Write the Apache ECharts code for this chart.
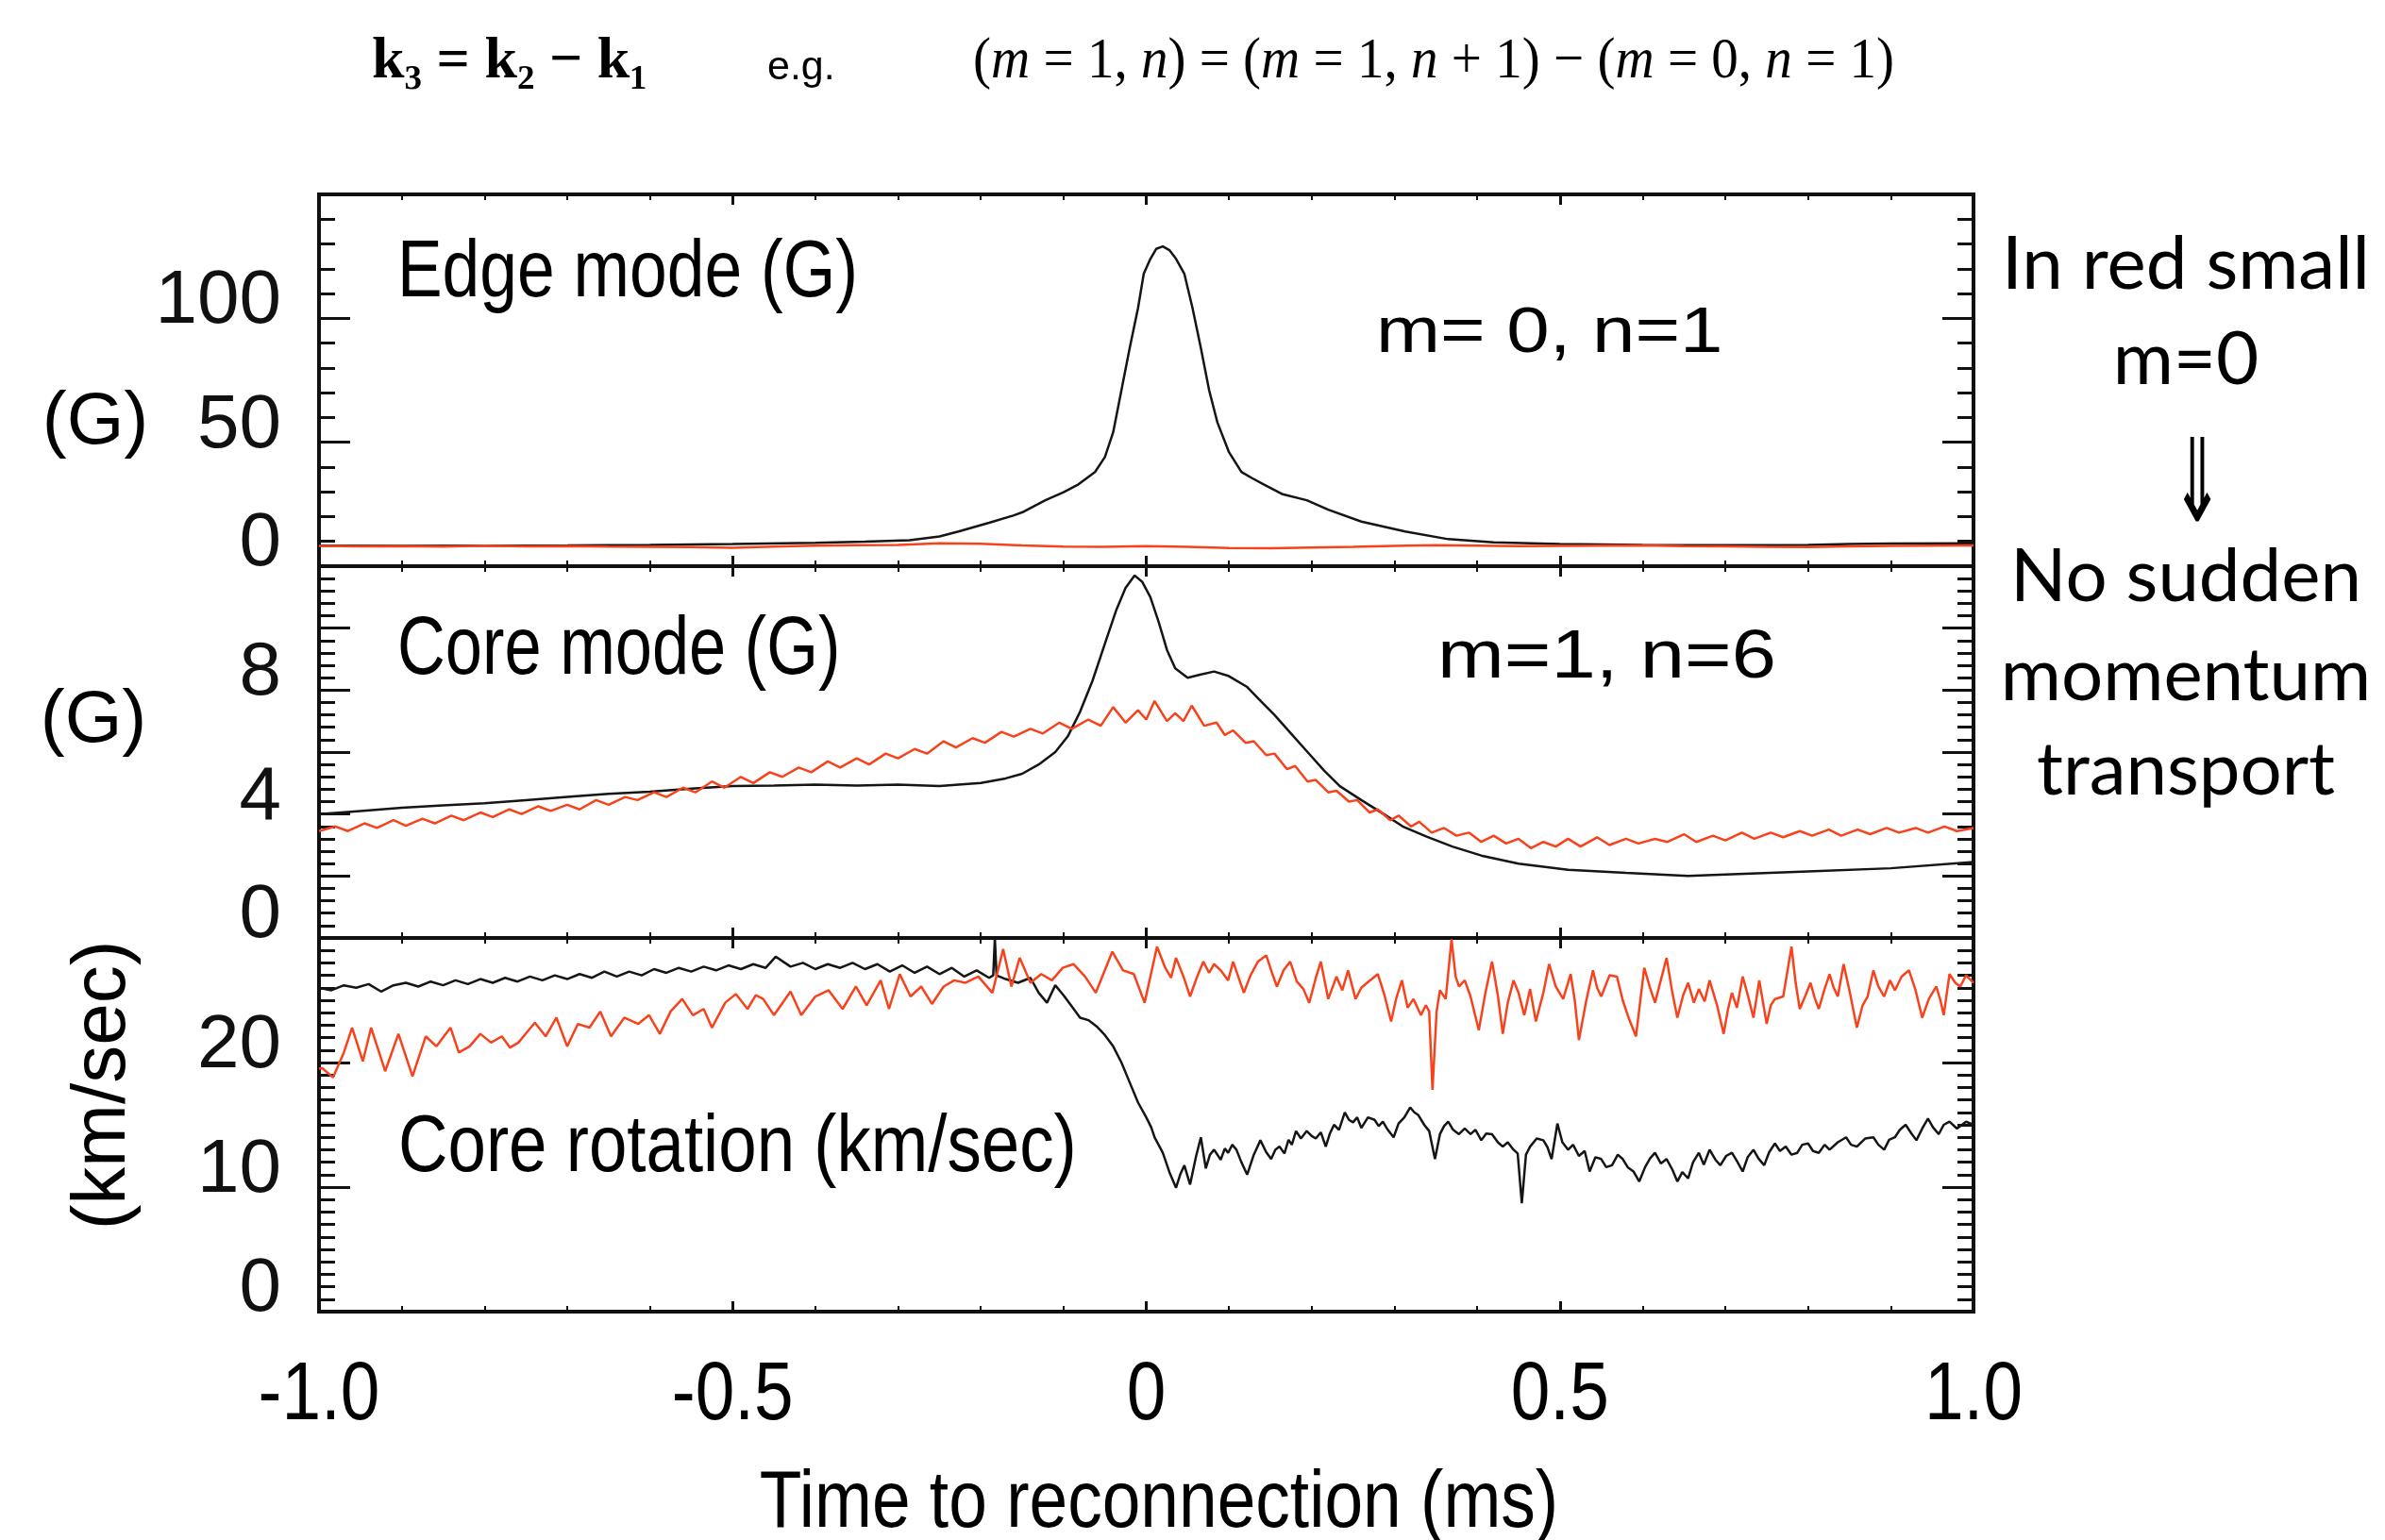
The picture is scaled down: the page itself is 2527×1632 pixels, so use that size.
<!DOCTYPE html>
<html>
<head>
<meta charset="utf-8">
<script src="https://cdn.jsdelivr.net/npm/echarts@6/dist/echarts.min.js"></script>
<style>
  html, body { margin: 0; padding: 0; background: #ffffff; }
  #chart { width: 2527px; height: 1632px; }
</style>
</head>
<body>
<div id="chart"></div>
<script>
// time axis (ms) ticks
var xTicks = [-1.0, -0.5, 0, 0.5, 1.0];
var xTickLabels = ['-1.0', '-0.5', '0', '0.5', '1.0'];

// Edge mode (G), m=0 n=1
var edgeBlack = [
  [-1.0,8.3],[-0.9,8.2],[-0.8,8.3],[-0.7,8.4],[-0.6,8.6],[-0.5,8.9],[-0.4,9.4],[-0.34,9.9],
  [-0.286,10.5],[-0.25,12.0],[-0.227,14.0],[-0.19,17.5],[-0.16,20.5],[-0.148,22.0],[-0.122,26.6],
  [-0.1,29.8],[-0.082,33.0],[-0.062,38.0],[-0.05,44],[-0.04,54],[-0.03,71],[-0.02,88],[-0.01,104],
  [-0.003,118],[0.005,124],[0.012,128],[0.02,129],[0.028,127.5],[0.036,124],[0.046,118],[0.056,104],
  [0.066,88],[0.076,71],[0.086,58],[0.1,46],[0.115,38],[0.128,35.5],[0.142,33],[0.165,29],
  [0.194,26.6],[0.22,22.8],[0.26,18],[0.313,14],[0.365,10.9],[0.42,9.6],[0.5,8.9],[0.6,8.6],
  [0.7,8.5],[0.8,8.6],[0.85,8.9],[0.9,9.1],[1.0,9.2]
];
var edgeRed = [
  [-1.0,8.2],[-0.95,8.0],[-0.9,8.1],[-0.85,7.9],[-0.8,8.3],[-0.75,8.0],[-0.7,8.1],[-0.65,7.9],
  [-0.6,7.8],[-0.55,7.7],[-0.5,7.4],[-0.45,7.9],[-0.4,8.3],[-0.35,8.5],[-0.3,8.6],[-0.25,9.2],
  [-0.2,9.0],[-0.15,8.4],[-0.1,7.9],[-0.05,7.8],[0,8.1],[0.05,7.8],[0.1,7.3],[0.15,7.2],[0.2,7.5],
  [0.25,7.8],[0.3,8.2],[0.35,8.5],[0.4,8.3],[0.45,8.1],[0.5,8.2],[0.55,8.3],[0.6,8.4],[0.65,8.1],
  [0.7,8.0],[0.75,7.8],[0.8,7.7],[0.85,8.0],[0.9,8.2],[0.95,8.3],[1.0,8.4]
];

// Core mode (G), m=1 n=6
var coreBlack = [
  [-1.0,4.0],[-0.95,4.1],[-0.9,4.2],[-0.85,4.28],[-0.8,4.35],[-0.75,4.45],[-0.7,4.55],[-0.65,4.65],
  [-0.6,4.72],[-0.55,4.82],[-0.5,4.9],[-0.45,4.92],[-0.4,4.95],[-0.35,4.92],[-0.3,4.95],[-0.25,4.9],
  [-0.2,5.0],[-0.17,5.15],[-0.15,5.3],[-0.13,5.6],[-0.11,6.0],[-0.095,6.5],[-0.08,7.3],[-0.065,8.3],
  [-0.05,9.5],[-0.036,10.6],[-0.025,11.3],[-0.014,11.7],[-0.005,11.5],[0.005,11.0],[0.015,10.2],
  [0.025,9.3],[0.035,8.7],[0.05,8.4],[0.065,8.5],[0.082,8.6],[0.1,8.45],[0.122,8.1],[0.14,7.6],
  [0.155,7.2],[0.175,6.6],[0.195,6.0],[0.215,5.4],[0.234,4.9],[0.26,4.45],[0.287,4.0],[0.31,3.6],
  [0.339,3.27],[0.37,2.95],[0.405,2.66],[0.45,2.4],[0.51,2.2],[0.58,2.1],[0.655,2.0],[0.7,2.05],
  [0.8,2.15],[0.9,2.25],[1.0,2.45]
];
var coreRed = [
  [-1.0,3.45],[-0.98,3.6],[-0.965,3.45],[-0.945,3.7],[-0.93,3.55],[-0.91,3.8],[-0.895,3.62],[-0.875,3.85],
  [-0.86,3.7],[-0.84,3.95],[-0.825,3.8],[-0.805,4.05],[-0.79,3.9],[-0.77,4.15],[-0.755,4.0],[-0.735,4.25],
  [-0.72,4.1],[-0.70,4.3],[-0.685,4.15],[-0.665,4.45],[-0.65,4.3],[-0.63,4.55],[-0.615,4.45],[-0.595,4.7],
  [-0.58,4.55],[-0.56,4.85],[-0.545,4.7],[-0.525,5.05],[-0.51,4.85],[-0.49,5.2],[-0.475,5.0],[-0.455,5.35],
  [-0.44,5.2],[-0.42,5.5],[-0.405,5.35],[-0.385,5.7],[-0.37,5.5],[-0.35,5.8],[-0.335,5.6],[-0.315,5.95],
  [-0.30,5.8],[-0.28,6.1],[-0.265,5.95],[-0.245,6.35],[-0.23,6.15],[-0.21,6.45],[-0.195,6.3],[-0.175,6.65],
  [-0.16,6.5],[-0.14,6.75],[-0.125,6.6],[-0.105,6.95],[-0.09,6.75],[-0.07,7.05],[-0.055,6.85],[-0.04,7.45],
  [-0.025,6.95],[-0.01,7.35],[0.0,7.05],[0.01,7.65],[0.025,7.0],[0.035,7.25],[0.045,7.0],[0.055,7.5],
  [0.07,6.85],[0.085,6.95],[0.095,6.55],[0.105,6.7],[0.12,6.3],[0.13,6.35],[0.145,5.9],[0.155,5.95],
  [0.17,5.45],[0.18,5.55],[0.195,5.05],[0.205,5.1],[0.22,4.7],[0.23,4.75],[0.245,4.4],[0.255,4.45],
  [0.27,4.05],[0.28,4.15],[0.295,3.8],[0.305,3.95],[0.32,3.6],[0.33,3.75],[0.345,3.4],[0.36,3.55],
  [0.375,3.3],[0.39,3.4],[0.405,3.1],[0.42,3.3],[0.435,3.05],[0.45,3.2],[0.465,2.9],[0.48,3.1],
  [0.495,2.95],[0.51,3.2],[0.525,2.95],[0.545,3.25],[0.56,3.0],[0.58,3.2],[0.595,3.05],[0.615,3.2],
  [0.63,3.1],[0.65,3.35],[0.665,3.1],[0.685,3.3],[0.70,3.15],[0.72,3.4],[0.735,3.2],[0.755,3.4],
  [0.77,3.25],[0.79,3.45],[0.805,3.3],[0.825,3.5],[0.84,3.3],[0.86,3.5],[0.875,3.35],[0.895,3.55],
  [0.91,3.4],[0.93,3.55],[0.945,3.4],[0.965,3.6],[0.98,3.45],[1.0,3.55]
];

// Core rotation (km/sec)
var rotBlack = [
  [-1.0,26.0],[-0.985,25.8],[-0.97,26.2],[-0.955,26.0],[-0.94,26.3],[-0.925,25.7],[-0.91,26.2],[-0.895,26.4],
  [-0.88,26.1],[-0.865,26.5],[-0.85,26.2],[-0.835,26.6],[-0.82,26.3],[-0.805,26.7],[-0.79,26.4],[-0.775,26.8],
  [-0.76,26.5],[-0.745,26.9],[-0.73,26.6],[-0.715,27.0],[-0.70,26.7],[-0.685,27.1],[-0.67,26.8],[-0.655,27.3],
  [-0.64,26.9],[-0.625,27.3],[-0.61,27.0],[-0.595,27.5],[-0.58,27.2],[-0.565,27.6],[-0.55,27.3],[-0.535,27.7],
  [-0.52,27.4],[-0.505,27.8],[-0.49,27.5],[-0.475,27.9],[-0.46,27.6],[-0.448,28.5],[-0.43,27.7],[-0.415,28.0],
  [-0.40,27.5],[-0.385,27.9],[-0.37,27.6],[-0.355,28.0],[-0.34,27.5],[-0.325,27.9],[-0.31,27.3],[-0.295,27.8],
  [-0.28,27.2],[-0.265,27.7],[-0.25,27.1],[-0.235,27.6],[-0.22,26.9],[-0.205,27.4],[-0.19,26.8],[-0.185,27.0],
  [-0.183,30.0],[-0.181,27.0],[-0.17,26.7],[-0.155,26.4],[-0.14,26.8],[-0.13,25.6],[-0.12,24.8],[-0.11,26.2],
  [-0.10,25.4],[-0.09,24.5],[-0.08,23.6],[-0.07,23.4],[-0.06,22.9],[-0.05,22.2],[-0.04,21.3],[-0.03,20.0],
  [-0.02,18.4],[-0.01,16.8],[0.0,15.6],[0.006,14.8],[0.01,14.0],[0.02,12.75],[0.028,11.2],[0.036,9.95],
  [0.041,11.0],[0.046,11.75],[0.053,10.2],[0.06,12.4],[0.066,14.0],[0.072,11.5],[0.077,12.6],[0.082,13.0],
  [0.09,12.2],[0.095,13.1],[0.099,12.75],[0.104,13.4],[0.109,13.0],[0.115,12.0],[0.122,11.0],[0.13,12.6],
  [0.138,13.76],[0.145,12.8],[0.151,12.25],[0.156,13.0],[0.161,13.25],[0.167,12.7],[0.172,13.8],[0.176,13.4],
  [0.181,14.5],[0.187,13.9],[0.194,14.5],[0.2,14.1],[0.205,13.9],[0.211,14.4],[0.217,13.25],[0.222,14.3],
  [0.227,15.0],[0.233,14.6],[0.24,16.0],[0.245,15.4],[0.25,15.2],[0.255,15.6],[0.26,14.75],[0.268,15.6],
  [0.276,15.4],[0.281,14.9],[0.286,15.25],[0.292,14.6],[0.299,14.0],[0.305,15.1],[0.312,15.6],[0.319,16.4],
  [0.324,16.0],[0.329,15.77],[0.336,15.0],[0.342,14.5],[0.349,12.25],[0.355,14.25],[0.36,14.9],[0.365,15.25],
  [0.371,14.6],[0.378,14.25],[0.385,14.7],[0.392,14.25],[0.398,14.6],[0.405,13.76],[0.411,14.3],[0.418,14.25],
  [0.425,13.6],[0.431,13.25],[0.437,13.6],[0.444,13.0],[0.449,12.7],[0.454,8.7],[0.459,12.6],[0.464,13.25],
  [0.472,13.9],[0.48,13.76],[0.485,13.2],[0.49,12.25],[0.497,15.1],[0.503,13.6],[0.51,13.0],[0.516,13.4],
  [0.523,12.5],[0.53,12.9],[0.536,11.25],[0.543,12.4],[0.55,12.25],[0.556,11.6],[0.563,11.75],[0.57,12.6],
  [0.576,12.25],[0.582,11.6],[0.589,11.25],[0.596,10.45],[0.603,11.6],[0.609,12.3],[0.615,12.75],[0.622,11.9],
  [0.629,12.25],[0.636,11.4],[0.642,10.45],[0.648,11.2],[0.655,10.7],[0.661,12.0],[0.668,12.75],[0.674,11.8],
  [0.681,13.0],[0.688,12.2],[0.694,11.75],[0.701,12.5],[0.708,12.75],[0.714,12.1],[0.721,11.25],[0.727,12.4],
  [0.734,13.0],[0.74,12.3],[0.747,11.75],[0.753,12.8],[0.76,13.5],[0.766,12.9],[0.773,13.25],[0.78,12.6],
  [0.787,12.75],[0.793,13.4],[0.8,13.5],[0.806,12.9],[0.813,12.75],[0.82,13.4],[0.826,13.0],[0.836,13.6],
  [0.846,14.0],[0.852,13.4],[0.859,13.25],[0.869,13.9],[0.879,14.0],[0.885,13.4],[0.892,13.0],[0.898,13.8],
  [0.905,14.0],[0.911,14.6],[0.918,15.0],[0.925,14.3],[0.931,13.76],[0.938,14.7],[0.945,15.5],[0.951,14.8],
  [0.958,14.25],[0.964,15.0],[0.971,15.25],[0.98,14.7],[0.991,15.25],[1.0,15.0]
];
var rotRed = [
  [-1.0,19.5],[-0.996,19.55],[-0.983,18.8],[-0.97,20.8],[-0.96,22.8],[-0.947,20.1],[-0.937,22.8],[-0.92,19.3],
  [-0.904,22.3],[-0.887,18.9],[-0.871,22.1],[-0.858,21.3],[-0.841,22.8],[-0.831,20.8],[-0.818,21.3],[-0.805,22.3],
  [-0.792,21.6],[-0.779,22.1],[-0.769,21.2],[-0.759,21.6],[-0.749,22.4],[-0.739,23.2],[-0.726,22.1],[-0.713,23.6],
  [-0.7,21.3],[-0.687,23.1],[-0.673,22.8],[-0.66,24.1],[-0.647,22.1],[-0.631,23.6],[-0.614,23.1],[-0.601,23.8],
  [-0.588,22.3],[-0.575,24.1],[-0.561,25.1],[-0.548,23.8],[-0.535,24.3],[-0.525,22.8],[-0.509,24.8],[-0.496,25.5],
  [-0.482,24.3],[-0.472,25.4],[-0.463,25.1],[-0.45,23.8],[-0.43,25.7],[-0.417,23.8],[-0.4,25.3],[-0.384,25.8],
  [-0.367,24.3],[-0.351,26.1],[-0.338,24.6],[-0.321,26.6],[-0.311,24.3],[-0.298,27.1],[-0.285,25.3],[-0.272,26.1],
  [-0.259,24.7],[-0.245,26.1],[-0.232,26.6],[-0.219,26.4],[-0.203,26.9],[-0.186,25.6],[-0.173,29.1],[-0.163,26.1],
  [-0.153,28.4],[-0.14,26.4],[-0.127,27.1],[-0.114,26.6],[-0.101,27.6],[-0.088,27.9],[-0.074,26.9],[-0.061,25.6],
  [-0.041,28.9],[-0.028,27.4],[-0.015,27.1],[-0.002,24.8],[0.013,29.3],[0.023,27.6],[0.03,26.8],[0.036,28.4],
  [0.045,26.9],[0.053,25.3],[0.061,26.8],[0.069,28.1],[0.076,27.2],[0.082,27.9],[0.09,27.4],[0.099,26.6],
  [0.105,28.1],[0.118,25.6],[0.126,27.0],[0.135,28.1],[0.145,28.6],[0.152,27.2],[0.158,26.1],[0.166,27.4],
  [0.174,28.1],[0.182,26.5],[0.19,25.9],[0.197,24.8],[0.205,26.8],[0.211,28.1],[0.22,25.1],[0.23,26.9],
  [0.237,25.8],[0.244,27.4],[0.253,25.1],[0.26,26.0],[0.267,26.4],[0.28,27.1],[0.288,25.4],[0.296,23.3],
  [0.302,25.1],[0.309,26.6],[0.316,24.4],[0.323,25.1],[0.332,23.8],[0.338,24.6],[0.342,24.1],[0.346,17.8],
  [0.351,24.1],[0.355,25.8],[0.362,25.1],[0.369,29.9],[0.374,26.9],[0.378,26.1],[0.385,26.6],[0.392,25.3],
  [0.402,22.6],[0.41,25.6],[0.418,28.1],[0.425,25.4],[0.431,22.3],[0.437,24.8],[0.444,26.6],[0.45,25.6],
  [0.457,23.8],[0.464,25.9],[0.471,23.3],[0.48,25.6],[0.487,27.9],[0.495,26.1],[0.504,25.1],[0.513,27.1],
  [0.518,25.0],[0.523,21.8],[0.532,25.0],[0.54,27.4],[0.545,26.0],[0.55,25.3],[0.56,27.0],[0.569,26.9],
  [0.576,25.0],[0.583,23.6],[0.592,22.1],[0.602,27.6],[0.609,26.0],[0.615,24.8],[0.622,26.6],[0.629,28.4],
  [0.636,25.6],[0.642,23.6],[0.649,25.4],[0.655,26.4],[0.662,24.8],[0.668,25.9],[0.675,24.9],[0.681,26.6],
  [0.69,24.6],[0.698,22.3],[0.703,24.2],[0.708,25.6],[0.714,24.4],[0.721,26.9],[0.728,25.2],[0.734,23.6],
  [0.741,26.6],[0.75,23.1],[0.755,24.6],[0.76,25.1],[0.77,25.3],[0.78,29.3],[0.785,26.4],[0.79,24.3],
  [0.797,25.4],[0.803,26.4],[0.808,25.2],[0.813,24.3],[0.82,25.9],[0.826,27.1],[0.831,26.0],[0.836,25.3],
  [0.843,27.9],[0.85,25.8],[0.859,22.8],[0.866,24.6],[0.872,25.3],[0.879,27.4],[0.885,26.1],[0.892,25.3],
  [0.899,26.6],[0.905,25.8],[0.913,26.9],[0.922,27.4],[0.93,25.8],[0.938,23.6],[0.946,25.1],[0.955,26.1],
  [0.96,25.0],[0.964,23.8],[0.971,27.1],[0.978,26.4],[0.984,26.1],[0.991,27.0],[0.997,26.6],[1.0,26.4]
];

var BLACK = '#151515';
var RED = '#f8421c';
var FRAME = '#111111';

var chart = echarts.init(document.getElementById('chart'));

var grids = [
  { left: 338, top: 206, width: 1753, height: 394 },
  { left: 338, top: 600, width: 1753, height: 394 },
  { left: 338, top: 994, width: 1753, height: 396 }
];
// per panel y scale: max, interval, minor splits, shown labels
var yScales = [
  { max: 150, interval: 50, minor: 5, labels: [0, 50, 100] },
  { max: 12, interval: 2, minor: 5, labels: [0, 4, 8] },
  { max: 30, interval: 10, minor: 10, labels: [0, 10, 20] }
];

var SANS = "'Liberation Sans', Arial, sans-serif";
var SERIF = "'Liberation Serif', 'Times New Roman', serif";

var xAxes = [], yAxes = [];
grids.forEach(function (g, i) {
  ['bottom', 'top'].forEach(function (pos) {
    xAxes.push({
      type: 'value', gridIndex: i, position: pos, min: -1, max: 1, interval: 0.5,
      axisLine: { show: false, onZero: false }, splitLine: { show: false },
      axisTick: { show: true, inside: true, length: 11, lineStyle: { color: FRAME, width: 3 } },
      minorTick: { show: true, splitNumber: 5, length: 6, lineStyle: { color: FRAME, width: 2 } },
      axisLabel: { show: false }
    });
  });
  var ys = yScales[i];
  ['left', 'right'].forEach(function (pos) {
    yAxes.push({
      type: 'value', gridIndex: i, position: pos, min: 0, max: ys.max, interval: ys.interval,
      axisLine: { show: false, onZero: false }, splitLine: { show: false },
      axisTick: { show: true, inside: true, length: 33, lineStyle: { color: FRAME, width: 3 } },
      minorTick: { show: true, splitNumber: ys.minor, length: 17, lineStyle: { color: FRAME, width: 3 } },
      axisLabel: {
        show: pos === 'left', margin: 40, color: '#111',
        fontFamily: SANS, fontSize: 80,
        padding: [0, 0, 34, 0],
        rich: { z: { fontFamily: SANS, fontSize: 80, color: '#111', padding: [0, 0, 12, 0] } },
        formatter: function (v) {
          if (ys.labels.indexOf(v) < 0) return '';
          return v === 0 ? '{z|0}' : String(v);
        }
      }
    });
  });
});

function line(data, color, idx) {
  return {
    type: 'line', data: data, xAxisIndex: idx * 2, yAxisIndex: idx * 2,
    showSymbol: false, symbol: 'none', animation: false,
    lineStyle: { color: color, width: 2.5 }
  };
}

function txt(o) {
  return {
    type: 'text', x: o.x, y: o.y, rotation: o.rotation || 0,
    scaleX: o.sx || 1, scaleY: o.sy || 1,
    style: {
      text: o.text, fill: '#000', font: o.font,
      textAlign: o.align || 'left', textVerticalAlign: 'middle', rich: o.rich
    }
  };
}

var graphics = [
  // formula line
  txt({ x: 394, y: 66, text: 'k₃ = k₂ − k₁', font: 'bold 62px ' + SERIF }),
  txt({ x: 813, y: 72, text: 'e.g.', font: '43px ' + SANS }),
  txt({
    x: 1031, y: 66, font: '62px ' + SERIF, sx: 0.92,
    text: '({i|m} = 1, {i|n}) = ({i|m} = 1, {i|n} + 1) − ({i|m} = 0, {i|n} = 1)',
    rich: { i: { fontStyle: 'italic', fontFamily: SERIF, fontSize: 62 } }
  }),
  // unit labels at left
  txt({ x: 101, y: 448, text: '(G)', font: '78px ' + SANS, align: 'center' }),
  txt({ x: 99, y: 764, text: '(G)', font: '78px ' + SANS, align: 'center' }),
  txt({ x: 110, y: 1150, text: '(km/sec)', font: '80px ' + SANS, align: 'center', rotation: Math.PI / 2 }),
  // panel labels
  txt({ x: 421, y: 290, text: 'Edge mode (G)', font: '86px ' + SANS, sx: 0.83 }),
  txt({ x: 421, y: 690, text: 'Core mode (G)', font: '88px ' + SANS, sx: 0.8 }),
  txt({ x: 422, y: 1217, text: 'Core rotation (km/sec)', font: '86px ' + SANS, sx: 0.845 }),
  txt({ x: 1458, y: 354, text: 'm= 0, n=1', font: '68px ' + SANS, sx: 1.2 }),
  txt({ x: 1523, y: 698, text: 'm=1, n=6', font: '72px ' + SANS, sx: 1.18 }),
  // x axis title
  txt({ x: 1228, y: 1594, text: 'Time to reconnection (ms)', font: '86px ' + SANS, align: 'center', sx: 0.85 }),
  // right notes
  txt({ x: 2316, y: 281, text: 'In red small', font: '78px Lato, sans-serif', align: 'center' }),
  txt({ x: 2316, y: 382, text: 'm=0', font: '78px Lato, sans-serif', align: 'center' }),
  txt({ x: 2328, y: 520, text: '⇓', font: '122px "DejaVu Sans", sans-serif', align: 'center', sx: 0.55 }),
  txt({ x: 2316, y: 612, text: 'No sudden', font: '78px Lato, sans-serif', align: 'center' }),
  txt({ x: 2316, y: 717, text: 'momentum', font: '78px Lato, sans-serif', align: 'center' }),
  txt({ x: 2316, y: 817, text: 'transport', font: '78px Lato, sans-serif', align: 'center' })
];

var option = {
  backgroundColor: '#ffffff',
  animation: false,
  grid: grids.map(function (g) {
    return {
      left: g.left, top: g.top, width: g.width, height: g.height,
      show: true, borderColor: FRAME, borderWidth: 4, backgroundColor: 'transparent'
    };
  }),
  xAxis: xAxes,
  yAxis: yAxes,
  series: [
    line(edgeBlack, BLACK, 0),
    line(edgeRed, RED, 0),
    line(coreBlack, BLACK, 1),
    line(coreRed, RED, 1),
    line(rotBlack, BLACK, 2),
    line(rotRed, RED, 2)
  ],
  graphic: graphics
};

chart.setOption(option);

// condensed tick labels for the time axis, placed through the bottom axis scale
var tickTexts = xTicks.map(function (v, k) {
  var px = chart.convertToPixel({ xAxisIndex: 4 }, v);
  return txt({ x: px, y: 1480, text: xTickLabels[k], font: '88px ' + SANS, align: 'center', sx: 0.85 });
});
chart.setOption({ graphic: graphics.concat(tickTexts) });
</script>
</body>
</html>
